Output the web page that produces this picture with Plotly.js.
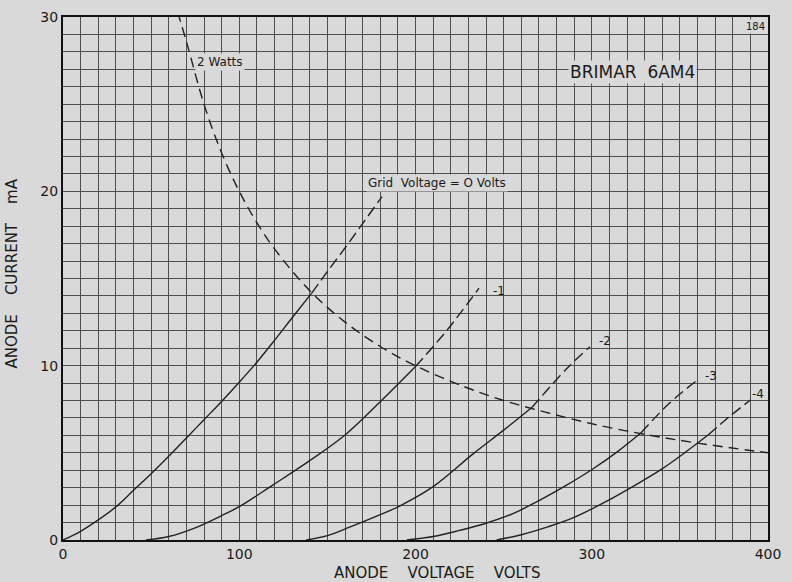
<!DOCTYPE html>
<html>
<head>
<meta charset="utf-8">
<script src="https://cdn.plot.ly/plotly-3.0.1.min.js"></script>
<style>
html,body{margin:0;padding:0;background:#d9d9d9;}
#chart{width:792px;height:582px;}
</style>
</head>
<body>
<div id="chart"></div>
<script>
// ---- data (anode voltage V, anode current mA) ----
const g0V  = [0,10,20,30,40,50,60,70,80,90,100,110,120,130,141,150,160,170,181];
const g0I  = [0,0.5,1.15,1.9,2.85,3.8,4.8,5.85,6.9,7.95,9.05,10.2,11.45,12.75,14.15,15.4,16.75,18.15,19.7];
const g1V  = [47,60,75,90,100,119,140,160,180,200,218,236];
const g1I  = [0,0.2,0.7,1.4,1.91,3.15,4.55,6.02,7.93,9.95,12.05,14.44];
const g2V  = [138,150,163,180,191,210,233,250,266,286,299];
const g2I  = [0,0.25,0.75,1.45,1.95,3.06,4.97,6.3,7.6,9.85,11.09];
const g3V  = [195,210,225,240,255,269,285,301,315,328,344,360];
const g3I  = [0,0.2,0.55,0.96,1.5,2.2,3.1,4.1,5.1,6.15,7.84,9.18];
const g4V  = [246,260,275,290,308,323,339,352,366,378,390];
const g4I  = [0,0.3,0.75,1.3,2.2,3.05,4.02,4.95,6.02,7.07,8.03];
// voltage where each grid curve crosses the 2 W dissipation line
const crossV = [141,200,266,328,366];
// 2 W dissipation curve
const wattV = [65,70,80,90,100,110,120,140,160,180,200,225,250,275,300,330,360,400];
const wattI = [30.3,28.6,25,22.2,20,18.2,16.7,14.3,12.5,11.1,10,8.9,8,7.3,6.67,6.06,5.56,5];
const gridLabels = ["Grid  Voltage = O Volts","-1","-2","-3","-4"];
const xTickVals = [0,100,200,300,400];
const xTickText = ["0","100","200","300","400"];
const yTickVals = [0,10,20,30];
const yTickText = ["0","10","20","30"];

const ink = '#222';
const paper = '#d9d9d9';
const curves = [[g0V,g0I],[g1V,g1I],[g2V,g2I],[g3V,g3I],[g4V,g4I]];
const traces = [];
curves.forEach(([vx,vy],k)=>{
  const sx=[],sy=[],dx=[],dy=[];
  vx.forEach((v,i)=>{
    if(v<=crossV[k]){sx.push(v);sy.push(vy[i]);}
    if(v>=crossV[k]){dx.push(v);dy.push(vy[i]);}
  });
  traces.push({x:sx,y:sy,mode:'lines',line:{color:ink,width:1.4,shape:'spline'},hoverinfo:'skip'});
  traces.push({x:dx,y:dy,mode:'lines',line:{color:ink,width:1.4,shape:'spline',dash:'11px,5px'},hoverinfo:'skip'});
});
traces.push({x:wattV,y:wattI,mode:'lines',line:{color:ink,width:1.4,shape:'spline',dash:'10px,6px'},hoverinfo:'skip'});

const font = {family:'DejaVu Sans, Liberation Sans, sans-serif',color:'#1a1a1a'};
const ann = (x,y,text,size,opts)=>Object.assign({x:x,y:y,xref:'x',yref:'y',text:text,showarrow:false,
  font:Object.assign({},font,{size:size}),bgcolor:paper,borderpad:1},opts||{});

const annotations = [
  ann(75,27.4,'2 Watts',12,{xanchor:'left'}),
  ann(172,20.5,gridLabels[0],12,{xanchor:'left'}),
  ann(243,14.3,gridLabels[1],12,{xanchor:'left',bgcolor:'rgba(0,0,0,0)'}),
  ann(303,11.4,gridLabels[2],12,{xanchor:'left',bgcolor:'rgba(0,0,0,0)'}),
  ann(363,9.4,gridLabels[3],12,{xanchor:'left',bgcolor:'rgba(0,0,0,0)'}),
  ann(390,8.35,gridLabels[4],12,{xanchor:'left',bgcolor:'rgba(0,0,0,0)'}),
  ann(323,26.85,'BRIMAR  6AM4',17,{}),
  ann(393,29.45,'184',10,{}),
  {x:0.53,y:-0.064,xref:'paper',yref:'paper',text:'ANODE    VOLTAGE    VOLTS',showarrow:false,
   font:Object.assign({},font,{size:15}),xanchor:'center',yanchor:'middle'},
  {x:-0.072,y:0.51,xref:'paper',yref:'paper',text:'ANODE    CURRENT    mA',showarrow:false,textangle:-90,
   font:Object.assign({},font,{size:15}),xanchor:'center',yanchor:'middle'}
];

const gridCol = '#505050';
const layout = {
  width:792,height:582,
  margin:{l:63,r:24,t:17,b:42},
  paper_bgcolor:paper,plot_bgcolor:paper,
  showlegend:false,
  xaxis:{range:[0,400],tickmode:'array',tickvals:xTickVals,ticktext:xTickText,ticks:'',
    showgrid:true,gridcolor:gridCol,gridwidth:1,
    minor:{dtick:10,showgrid:true,gridcolor:gridCol,gridwidth:1,ticks:''},
    showline:true,linecolor:'#111',linewidth:2,mirror:true,zeroline:false,
    tickfont:Object.assign({},font,{size:14}),fixedrange:true},
  yaxis:{range:[0,30],tickmode:'array',tickvals:yTickVals,ticktext:yTickText,ticks:'',
    showgrid:true,gridcolor:gridCol,gridwidth:1,
    minor:{dtick:1,showgrid:true,gridcolor:gridCol,gridwidth:1,ticks:''},
    showline:true,linecolor:'#111',linewidth:2,mirror:true,zeroline:false,
    tickfont:Object.assign({},font,{size:14}),fixedrange:true},
  annotations:annotations
};
Plotly.newPlot('chart',traces,layout,{staticPlot:true,displayModeBar:false});
</script>
</body>
</html>
